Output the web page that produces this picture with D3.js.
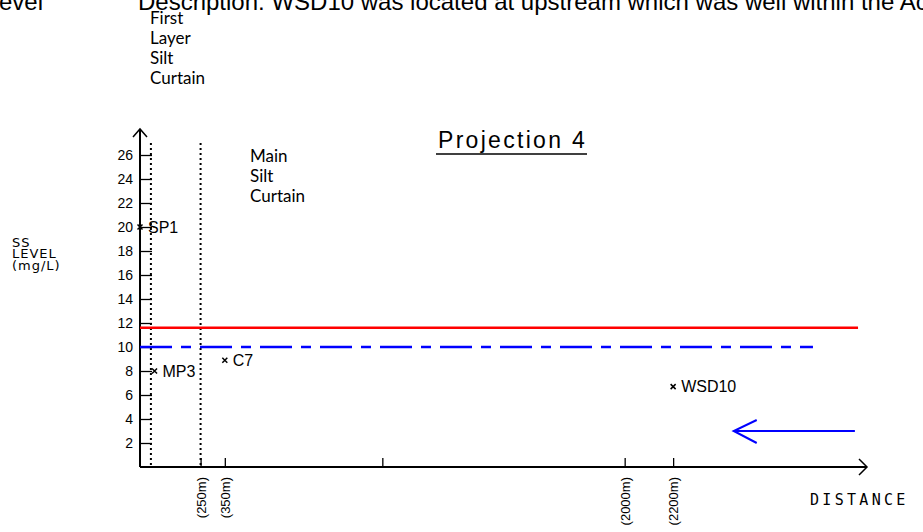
<!DOCTYPE html>
<html><head><meta charset="utf-8">
<script src="https://cdn.jsdelivr.net/npm/d3@7"></script>
<style>
html,body{margin:0;padding:0;background:#fff;overflow:hidden;}
svg{display:block;}
</style></head>
<body>
<svg id="c" width="923" height="532"></svg>
<script>
// ---- data ----
const stationNames = ["SP1", "MP3", "C7", "WSD10"];
const stationDist  = [0, 60, 350, 2200];        // m
const stationSS    = [20, 8, 8.9, 6.7];         // mg/L
const yTickValues  = [2,4,6,8,10,12,14,16,18,20,22,24,26];
const xTickValues  = [250, 350, 1000, 2000, 2200];
const xTickLabels  = {250:"(250m)", 350:"(350m)", 2000:"(2000m)", 2200:"(2200m)"};
const curtainDist  = [45, 250];                 // First Layer / Main silt curtain
const actionLevel  = 11.6;                       // red line
const limitLevel   = 10;                         // blue dash-dot line
const actionLineEnd = 2963, limitLineEnd = 2777;
const flowArrow = {from: 2950, to: 2450, level: 3};

const svg = d3.select("#c");
const x = d3.scaleLinear().domain([0, 3000]).range([140, 867]);
const y = d3.scaleLinear().domain([0, 28]).range([467, 131]);

// top texts (cut off at the top edge as in the reference)
svg.append("text").attr("x", 43).attr("y", 10).attr("text-anchor","end")
  .attr("font-family","Liberation Sans, Arial").attr("font-size",24).text("Level");
svg.append("text").attr("x", 138).attr("y", 10)
  .attr("font-family","Liberation Sans, Arial").attr("font-size",24)
  .text("Description: WSD10 was located at upstream which was well within the Action Level");

const roundFont = "Lato, DejaVu Sans, sans-serif";
["First","Layer","Silt","Curtain"].forEach((t,i)=>{
  svg.append("text").attr("x",150).attr("y",24+i*20).attr("font-family",roundFont)
    .attr("font-size",17).text(t);
});
["Main","Silt","Curtain"].forEach((t,i)=>{
  svg.append("text").attr("x",250).attr("y",162+i*20).attr("font-family",roundFont)
    .attr("font-size",17).text(t);
});

// title
svg.append("text").attr("x",438).attr("y",148)
  .attr("font-family","Liberation Sans, Arial").attr("font-size",23)
  .attr("letter-spacing",2.3).text("Projection 4");
svg.append("line").attr("x1",436).attr("x2",587).attr("y1",154).attr("y2",154)
  .attr("stroke","#000").attr("stroke-width",1.5);

// y label
["SS","LEVEL","(mg/L)"].forEach((t,i)=>{
  svg.append("text").attr("x",12).attr("y",247+i*11.3)
    .attr("font-family","DejaVu Sans, sans-serif").attr("font-size",13)
    .attr("letter-spacing",1).text(t);
});
// x label
svg.append("text").attr("x",810).attr("y",505).attr("font-family","DejaVu Sans Mono, monospace")
  .attr("font-size",15).attr("letter-spacing",3.3).text("DISTANCE");

// axes
const yAxis = d3.axisLeft(y).tickValues(yTickValues).tickSize(-12).tickPadding(7)
  .tickFormat(d3.format("d"));
const gy = svg.append("g").attr("transform",`translate(${x(0)},0)`).call(yAxis);
gy.select(".domain").remove();
gy.selectAll(".tick line").attr("stroke","#000").attr("stroke-width",1.3);
gy.selectAll(".tick text").attr("font-family","Liberation Sans, Arial").attr("font-size",14)
  .attr("fill","#000");

const xAxis = d3.axisBottom(x).tickValues(xTickValues).tickSize(-9).tickPadding(6)
  .tickFormat(d => xTickLabels[d] || "");
const gx = svg.append("g").attr("transform",`translate(0,${y(0)})`).call(xAxis);
gx.select(".domain").remove();
gx.selectAll(".tick line").attr("stroke","#000").attr("stroke-width",1.3);
gx.selectAll(".tick text").attr("font-family","Liberation Sans, Arial").attr("font-size",13)
  .attr("fill","#000").attr("text-anchor","end").attr("dy","0.35em")
  .attr("transform","translate(0,10) rotate(-90)").attr("x",0).attr("y",0);

// axis lines with arrows
svg.append("line").attr("x1",x(0)).attr("x2",x(0)).attr("y1",y(0)).attr("y2",y(28)-2)
  .attr("stroke","#000").attr("stroke-width",2);
svg.append("path").attr("d",`M${x(0)-7},${y(28)+6}L${x(0)},${y(28)-2}L${x(0)+7},${y(28)+6}`)
  .attr("fill","none").attr("stroke","#000").attr("stroke-width",1.5);
svg.append("line").attr("x1",x(0)).attr("x2",x(3000)).attr("y1",y(0)).attr("y2",y(0))
  .attr("stroke","#000").attr("stroke-width",2);
svg.append("path").attr("d",`M${x(3000)-8},${y(0)-8}L${x(3000)},${y(0)}L${x(3000)-8},${y(0)+8}`)
  .attr("fill","none").attr("stroke","#000").attr("stroke-width",1.5);

// curtains (dotted)
svg.selectAll(".curtain").data(curtainDist).enter().append("line")
  .attr("x1",d=>x(d)).attr("x2",d=>x(d)).attr("y1",y(27)).attr("y2",y(0))
  .attr("stroke","#000").attr("stroke-width",2).attr("stroke-dasharray","2,3");

// level lines
svg.append("line").attr("x1",x(0)).attr("x2",x(actionLineEnd)).attr("y1",y(actionLevel))
  .attr("y2",y(actionLevel)).attr("stroke","#ff0000").attr("stroke-width",2.5);
svg.append("line").attr("x1",x(0)).attr("x2",x(limitLineEnd)).attr("y1",y(limitLevel))
  .attr("y2",y(limitLevel)).attr("stroke","#0000ff").attr("stroke-width",2.5)
  .attr("stroke-dasharray","32,9,10,9");

// flow arrow
const ay = y(flowArrow.level);
svg.append("line").attr("x1",x(flowArrow.from)).attr("x2",x(flowArrow.to)).attr("y1",ay).attr("y2",ay)
  .attr("stroke","#0000ff").attr("stroke-width",2);
svg.append("path").attr("d",`M${x(flowArrow.to)+23},${ay-11}L${x(flowArrow.to)},${ay}L${x(flowArrow.to)+23},${ay+12}`)
  .attr("fill","none").attr("stroke","#0000ff").attr("stroke-width",2);

// stations
const st = stationNames.map((n,i)=>({name:n, d:stationDist[i], v:stationSS[i]}));
const g = svg.selectAll(".st").data(st).enter().append("g")
  .attr("transform",d=>`translate(${x(d.d)},${y(d.v)})`);
g.append("path").attr("d","M-2.5,-2.5L2.5,2.5M-2.5,2.5L2.5,-2.5").attr("stroke","#000").attr("stroke-width",1.5);
g.append("text").attr("x",8).attr("dy","0.35em")
  .attr("font-family","Liberation Sans Narrow, Liberation Sans, Arial")
  .attr("font-size",16).text(d=>d.name);
</script>
</body></html>
